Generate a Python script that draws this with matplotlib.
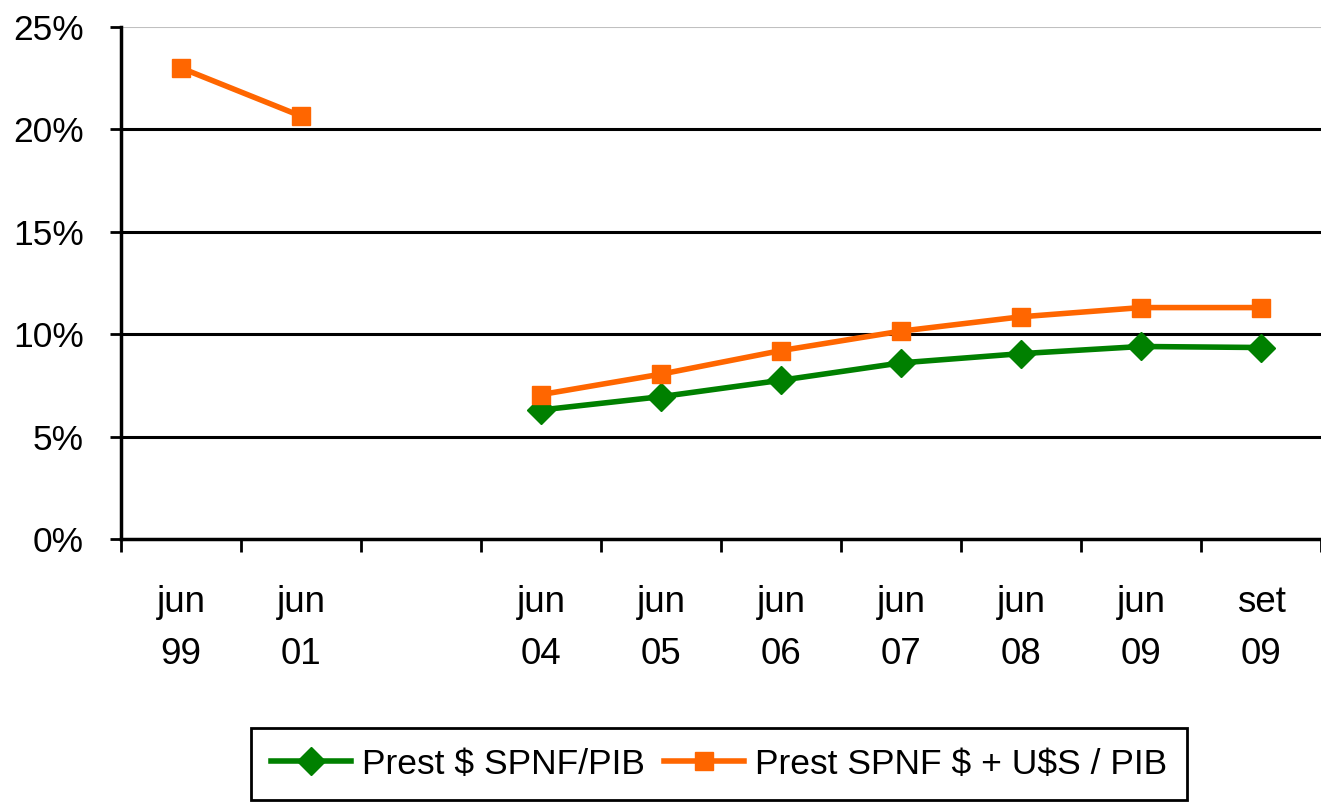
import matplotlib
matplotlib.use("Agg")
import matplotlib.pyplot as plt
import numpy as np

categories = ["jun\n99", "jun\n01", "", "jun\n04", "jun\n05", "jun\n06", "jun\n07", "jun\n08", "jun\n09", "set\n09"]
prest_pesos = [np.nan, np.nan, np.nan, 6.3, 6.95, 7.75, 8.6, 9.05, 9.4, 9.35]
prest_total = [23.0, 20.65, np.nan, 7.05, 8.05, 9.2, 10.15, 10.85, 11.3, 11.3]
series_names = [r"Prest \$ SPNF/PIB", r"Prest SPNF \$ + U\$S / PIB"]
yticks = [0, 5, 10, 15, 20, 25]

plt.rcParams['font.family'] = ['Liberation Sans', 'DejaVu Sans']

W, H = 1321, 802
fig = plt.figure(figsize=(W/100, H/100), dpi=100)
ax = fig.add_axes([121/W, 1-539/H, (W-121)/W, (539-27)/H])

x = np.arange(len(categories))
ax.plot(x, prest_pesos, color="#008000", lw=4, marker="D", ms=14, label=series_names[0], zorder=3)
ax.plot(x, prest_total, color="#FF6600", lw=4, marker="s", ms=13, label=series_names[1], zorder=4)

ax.set_xlim(-0.5, -0.5 + (W-121)/121)
ax.set_ylim(0, 25)
for v in yticks[1:-1]:
    ax.axhline(v, color="black", lw=2.2, zorder=1)
ax.axhline(25, color="#c0c0c0", lw=1.5, zorder=1)

for s in ["top", "right"]:
    ax.spines[s].set_visible(False)
ax.spines["left"].set_linewidth(2.5)
ax.spines["bottom"].set_linewidth(2.5)

ax.set_yticks(yticks)
ax.set_yticklabels([f"{v}%" for v in yticks], fontsize=25.5)
ax.set_xticks(x)
ax.set_xticklabels(categories, fontsize=26.5, linespacing=1.62)
ax.set_xticks(np.arange(-0.5, 10.5, 1), minor=True)
ax.tick_params(axis="x", which="major", length=0, pad=33)
ax.tick_params(axis="x", which="minor", length=9.5, width=2, direction="out")
ax.tick_params(axis="y", length=8, width=2, direction="out", pad=19)

leg = fig.legend(loc="center", bbox_to_anchor=(719/W, 1-764/H), ncol=2, fontsize=25.5,
                 frameon=True, fancybox=False, edgecolor="black", framealpha=1,
                 handlelength=2.26, handletextpad=0.31, columnspacing=0.54, borderpad=0.55)
leg.get_frame().set_linewidth(2)

fig.savefig("out.png", dpi=100)
